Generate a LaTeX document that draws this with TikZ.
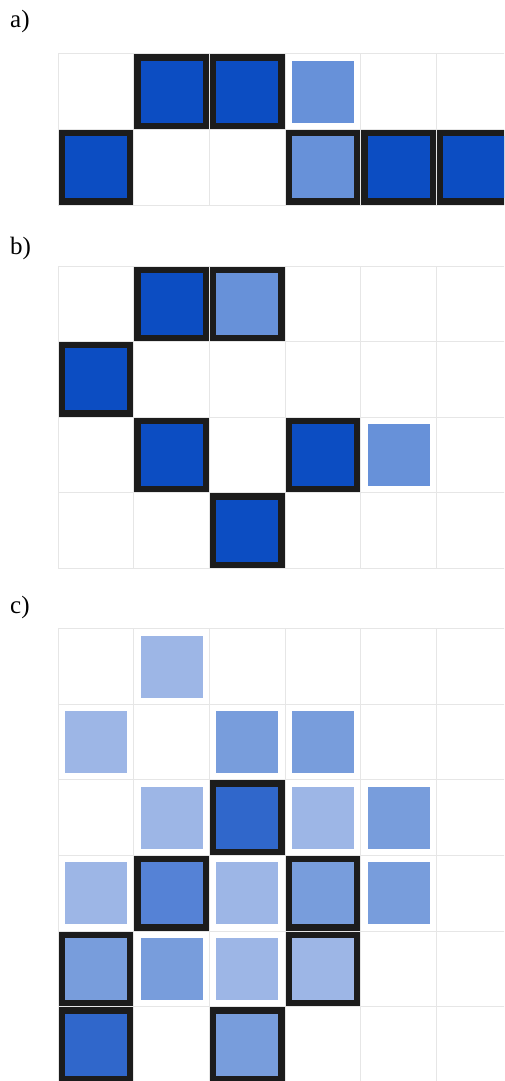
\documentclass[tikz,border=0pt]{standalone}
\usepackage{fontspec}
\setmainfont{Liberation Serif}
\definecolor{gridgray}{HTML}{E6E6E6}
\definecolor{framecol}{HTML}{1C1C1C}
\definecolor{darkblue}{HTML}{0C4DC2}
\definecolor{lightblue}{HTML}{6791D9}
\definecolor{cone}{HTML}{9DB6E6}
\definecolor{ctwo}{HTML}{789DDC}
\definecolor{cthree}{HTML}{5582D6}
\definecolor{cfour}{HTML}{3067CB}
\tikzset{
  gridline/.style={draw=gridgray, line width=1pt},
  framefill/.style={fill=framecol},
  panellabel/.style={anchor=base west, inner sep=0pt, font=\fontsize{25}{25}\selectfont}
}
\newcommand\gridpanel[2]{%
  \foreach \r in {0,...,#2} \draw[gridline] (58.3,{#1+\r*75.6}) -- (520,{#1+\r*75.6});
  \foreach \c in {0,...,6} \draw[gridline] ({58.3+\c*75.6},#1) -- ({58.3+\c*75.6},{#1+#2*75.6});
}
\newcommand\cellsq[5]{%
  \ifnum#5=1 \fill[framefill] ({58.3+#3*75.6},{#1+#2*75.6}) rectangle ++(75.6,75.6);\fi
  \fill[#4] ({58.3+#3*75.6+6.8},{#1+#2*75.6+6.8}) rectangle ++(62,62);
}

\begin{document}
\begin{tikzpicture}[x=1pt,y=-1pt]
\useasboundingbox (0,0) rectangle (504,1081);
\clip (0,0) rectangle (504,1081);
\fill[white] (0,0) rectangle (504,1081);
% labels
\node[panellabel] (la) at (10,28) {a)};
\node[panellabel] (lb) at (10,254) {b)};
\node[panellabel] (lc) at (10,613) {c)};
% panel a
\def\ta{54}
\cellsq{\ta}{0}{1}{darkblue}{1}
\cellsq{\ta}{0}{2}{darkblue}{1}
\cellsq{\ta}{0}{3}{lightblue}{0}
\cellsq{\ta}{1}{0}{darkblue}{1}
\cellsq{\ta}{1}{3}{lightblue}{1}
\cellsq{\ta}{1}{4}{darkblue}{1}
\cellsq{\ta}{1}{5}{darkblue}{1}
\gridpanel{\ta}{2}
% panel b
\def\tb{266}
\cellsq{\tb}{0}{1}{darkblue}{1}
\cellsq{\tb}{0}{2}{lightblue}{1}
\cellsq{\tb}{1}{0}{darkblue}{1}
\cellsq{\tb}{2}{1}{darkblue}{1}
\cellsq{\tb}{2}{3}{darkblue}{1}
\cellsq{\tb}{2}{4}{lightblue}{0}
\cellsq{\tb}{3}{2}{darkblue}{1}
\gridpanel{\tb}{4}
% panel c
\def\tc{628.7}
\cellsq{\tc}{0}{1}{cone}{0}
\cellsq{\tc}{1}{0}{cone}{0}
\cellsq{\tc}{1}{2}{ctwo}{0}
\cellsq{\tc}{1}{3}{ctwo}{0}
\cellsq{\tc}{2}{1}{cone}{0}
\cellsq{\tc}{2}{2}{cfour}{1}
\cellsq{\tc}{2}{3}{cone}{0}
\cellsq{\tc}{2}{4}{ctwo}{0}
\cellsq{\tc}{3}{0}{cone}{0}
\cellsq{\tc}{3}{1}{cthree}{1}
\cellsq{\tc}{3}{2}{cone}{0}
\cellsq{\tc}{3}{3}{ctwo}{1}
\cellsq{\tc}{3}{4}{ctwo}{0}
\cellsq{\tc}{4}{0}{ctwo}{1}
\cellsq{\tc}{4}{1}{ctwo}{0}
\cellsq{\tc}{4}{2}{cone}{0}
\cellsq{\tc}{4}{3}{cone}{1}
\cellsq{\tc}{5}{0}{cfour}{1}
\cellsq{\tc}{5}{2}{ctwo}{1}
\gridpanel{\tc}{6}
\end{tikzpicture}
\end{document}
